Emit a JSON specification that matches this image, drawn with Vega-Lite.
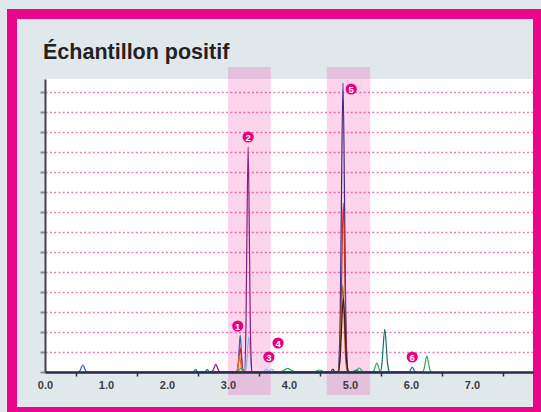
{
  "$schema": "https://vega.github.io/schema/vega-lite/v6.json",
  "width": 488,
  "height": 293,
  "autosize": {"type": "none"},
  "padding": {"left": 45, "top": 79, "right": 8, "bottom": 40},
  "background": "#e1e8ec",
  "config": {"view": {"fill": "white", "stroke": null}},
  "title": {"text": "Échantillon positif", "anchor": "start", "frame": "group", "font": "Liberation Sans", "fontSize": 21.5, "fontWeight": "bold", "color": "#222222", "baseline": "alphabetic", "offset": -71, "dx": -2},
  "datasets": {
    "bands": [{"x1": 3.0, "x2": 3.7}, {"x1": 4.62, "x2": 5.33}],
    "markers": [
      {"n": "1", "t": 3.16, "v": 2.3},
      {"n": "2", "t": 3.33, "v": 11.75},
      {"n": "3", "t": 3.67, "v": 0.75},
      {"n": "4", "t": 3.82, "v": 1.45},
      {"n": "5", "t": 5.02, "v": 14.15},
      {"n": "6", "t": 6.02, "v": 0.75}
    ],
    "traces": [
      {"s": "navy", "t": 4.81, "v": 0}, {"s": "navy", "t": 4.84, "v": 2.89}, {"s": "navy", "t": 4.855, "v": 7.23}, {"s": "navy", "t": 4.885, "v": 14.45}, {"s": "navy", "t": 4.915, "v": 7.23}, {"s": "navy", "t": 4.93, "v": 2.89}, {"s": "navy", "t": 4.96, "v": 0},

      {"s": "blue", "t": 0.545, "v": 0}, {"s": "blue", "t": 0.575, "v": 0.07}, {"s": "blue", "t": 0.59, "v": 0.18}, {"s": "blue", "t": 0.62, "v": 0.35}, {"s": "blue", "t": 0.65, "v": 0.18}, {"s": "blue", "t": 0.665, "v": 0.07}, {"s": "blue", "t": 0.695, "v": 0},
      {"s": "blue", "t": 3.146, "v": 0}, {"s": "blue", "t": 3.168, "v": 0.37}, {"s": "blue", "t": 3.179, "v": 0.93}, {"s": "blue", "t": 3.2, "v": 1.85}, {"s": "blue", "t": 3.221, "v": 0.93}, {"s": "blue", "t": 3.232, "v": 0.37}, {"s": "blue", "t": 3.254, "v": 0},
      {"s": "blue", "t": 5.96, "v": 0}, {"s": "blue", "t": 5.984, "v": 0.05}, {"s": "blue", "t": 5.996, "v": 0.13}, {"s": "blue", "t": 6.02, "v": 0.25}, {"s": "blue", "t": 6.044, "v": 0.13}, {"s": "blue", "t": 6.056, "v": 0.05}, {"s": "blue", "t": 6.08, "v": 0},

      {"s": "red", "t": 3.14, "v": 0}, {"s": "red", "t": 3.164, "v": 0.24}, {"s": "red", "t": 3.176, "v": 0.6}, {"s": "red", "t": 3.2, "v": 1.2}, {"s": "red", "t": 3.224, "v": 0.6}, {"s": "red", "t": 3.236, "v": 0.24}, {"s": "red", "t": 3.26, "v": 0},
      {"s": "red", "t": 4.815, "v": 0}, {"s": "red", "t": 4.845, "v": 1.69}, {"s": "red", "t": 4.86, "v": 4.23}, {"s": "red", "t": 4.89, "v": 8.45}, {"s": "red", "t": 4.92, "v": 4.23}, {"s": "red", "t": 4.935, "v": 1.69}, {"s": "red", "t": 4.965, "v": 0},

      {"s": "orange", "t": 3.13, "v": 0}, {"s": "orange", "t": 3.158, "v": 0.16}, {"s": "orange", "t": 3.17, "v": 0.4}, {"s": "orange", "t": 3.19, "v": 0.8}, {"s": "orange", "t": 3.21, "v": 0.4}, {"s": "orange", "t": 3.222, "v": 0.16}, {"s": "orange", "t": 3.25, "v": 0},

      {"s": "lightblue", "t": 3.28, "v": 0}, {"s": "lightblue", "t": 3.304, "v": 0.35}, {"s": "lightblue", "t": 3.316, "v": 0.88}, {"s": "lightblue", "t": 3.34, "v": 1.75}, {"s": "lightblue", "t": 3.364, "v": 0.88}, {"s": "lightblue", "t": 3.376, "v": 0.35}, {"s": "lightblue", "t": 3.4, "v": 0},
      {"s": "lightblue", "t": 3.58, "v": 0}, {"s": "lightblue", "t": 3.62, "v": 0.15}, {"s": "lightblue", "t": 3.67, "v": 0.03}, {"s": "lightblue", "t": 3.72, "v": 0.15}, {"s": "lightblue", "t": 3.76, "v": 0},

      {"s": "olive", "t": 4.805, "v": 0}, {"s": "olive", "t": 4.835, "v": 0.87}, {"s": "olive", "t": 4.85, "v": 2.18}, {"s": "olive", "t": 4.88, "v": 4.35}, {"s": "olive", "t": 4.91, "v": 2.18}, {"s": "olive", "t": 4.925, "v": 0.87}, {"s": "olive", "t": 4.955, "v": 0},

      {"s": "brown", "t": 4.69, "v": 0}, {"s": "brown", "t": 4.72, "v": 0.15}, {"s": "brown", "t": 4.75, "v": 0},
      {"s": "brown", "t": 4.806, "v": 0}, {"s": "brown", "t": 4.84, "v": 0.74}, {"s": "brown", "t": 4.857, "v": 1.85}, {"s": "brown", "t": 4.89, "v": 3.7}, {"s": "brown", "t": 4.923, "v": 1.85}, {"s": "brown", "t": 4.94, "v": 0.74}, {"s": "brown", "t": 4.974, "v": 0},

      {"s": "purple", "t": 2.725, "v": 0}, {"s": "purple", "t": 2.755, "v": 0.08}, {"s": "purple", "t": 2.77, "v": 0.19}, {"s": "purple", "t": 2.8, "v": 0.38}, {"s": "purple", "t": 2.83, "v": 0.19}, {"s": "purple", "t": 2.845, "v": 0.08}, {"s": "purple", "t": 2.875, "v": 0},
      {"s": "purple", "t": 3.27, "v": 0}, {"s": "purple", "t": 3.294, "v": 2.25}, {"s": "purple", "t": 3.306, "v": 5.63}, {"s": "purple", "t": 3.33, "v": 11.25}, {"s": "purple", "t": 3.354, "v": 5.63}, {"s": "purple", "t": 3.366, "v": 2.25}, {"s": "purple", "t": 3.39, "v": 0},

      {"s": "teal", "t": 2.43, "v": 0}, {"s": "teal", "t": 2.47, "v": 0.12}, {"s": "teal", "t": 2.51, "v": 0},
      {"s": "teal", "t": 2.62, "v": 0}, {"s": "teal", "t": 2.66, "v": 0.12}, {"s": "teal", "t": 2.7, "v": 0},
      {"s": "teal", "t": 5.04, "v": 0}, {"s": "teal", "t": 5.1, "v": 0.1}, {"s": "teal", "t": 5.16, "v": 0},
      {"s": "teal", "t": 5.495, "v": 0}, {"s": "teal", "t": 5.525, "v": 0.43}, {"s": "teal", "t": 5.54, "v": 1.08}, {"s": "teal", "t": 5.57, "v": 2.15}, {"s": "teal", "t": 5.6, "v": 1.08}, {"s": "teal", "t": 5.615, "v": 0.43}, {"s": "teal", "t": 5.645, "v": 0},

      {"s": "green", "t": 3.16, "v": 0}, {"s": "green", "t": 3.22, "v": 0.2}, {"s": "green", "t": 3.28, "v": 0},
      {"s": "green", "t": 3.85, "v": 0}, {"s": "green", "t": 3.92, "v": 0.08}, {"s": "green", "t": 3.98, "v": 0.18}, {"s": "green", "t": 4.04, "v": 0.08}, {"s": "green", "t": 4.11, "v": 0},
      {"s": "green", "t": 4.4, "v": 0}, {"s": "green", "t": 4.5, "v": 0.1}, {"s": "green", "t": 4.6, "v": 0},
      {"s": "green", "t": 5.08, "v": 0}, {"s": "green", "t": 5.15, "v": 0.2}, {"s": "green", "t": 5.22, "v": 0},
      {"s": "green", "t": 5.365, "v": 0}, {"s": "green", "t": 5.395, "v": 0.09}, {"s": "green", "t": 5.41, "v": 0.23}, {"s": "green", "t": 5.44, "v": 0.45}, {"s": "green", "t": 5.47, "v": 0.23}, {"s": "green", "t": 5.485, "v": 0.09}, {"s": "green", "t": 5.515, "v": 0},
      {"s": "green", "t": 6.185, "v": 0}, {"s": "green", "t": 6.215, "v": 0.16}, {"s": "green", "t": 6.23, "v": 0.4}, {"s": "green", "t": 6.26, "v": 0.8}, {"s": "green", "t": 6.29, "v": 0.4}, {"s": "green", "t": 6.305, "v": 0.16}, {"s": "green", "t": 6.335, "v": 0}
    ]
  },
  "layer": [
    {
      "data": {"values": [{}]},
      "mark": {"type": "rect", "fill": "transparent", "stroke": "#ea068b", "strokeWidth": 10},
      "encoding": {
        "x": {"datum": -0.541, "type": "quantitative", "scale": {"domain": [0, 8], "nice": false, "zero": false}},
        "x2": {"datum": 8.082},
        "y": {"datum": 17.9, "type": "quantitative", "scale": {"domain": [0, 14.65], "nice": false, "zero": false}},
        "y2": {"datum": -2.0}
      }
    },
    {
      "data": {"name": "bands"},
      "mark": {"type": "rect", "fill": "#ec008c", "opacity": 0.17},
      "encoding": {
        "x": {"field": "x1", "type": "quantitative", "scale": {"domain": [0, 8], "nice": false, "zero": false}},
        "x2": {"field": "x2"},
        "y": {"datum": 15.25, "type": "quantitative", "scale": {"domain": [0, 14.65], "nice": false, "zero": false}},
        "y2": {"datum": -1.15}
      }
    },
    {
      "data": {"name": "traces"},
      "mark": {"type": "line", "strokeWidth": 1.2, "interpolate": "monotone"},
      "encoding": {
        "x": {"field": "t", "type": "quantitative", "scale": {"domain": [0, 8], "nice": false, "zero": false},
          "axis": {"title": null, "values": [0, 1, 2, 3, 4, 5, 6, 7], "tickCount": 20, "format": ".1f", "tickOffset": 30.5, "labelOffset": -30.5, "labelFont": "Liberation Sans", "labelFontWeight": "bold", "labelFontSize": 11, "labelColor": "#3c3c3c", "labelPadding": 3, "labelFlush": false, "labelOverlap": false, "tickColor": "#333333", "tickSize": 4, "tickWidth": 1.5, "domainColor": "#2a2b4d", "domainWidth": 2.5, "grid": false, "zindex": 1}},
        "y": {"field": "v", "type": "quantitative", "scale": {"domain": [0, 14.65], "nice": false, "zero": false},
          "axis": {"title": null, "values": [0, 1, 2, 3, 4, 5, 6, 7, 8, 9, 10, 11, 12, 13, 14], "tickCount": 30, "labels": false, "grid": true, "gridColor": "#f07ab8", "gridDash": [2, 2.3], "gridWidth": 1.5, "domainColor": "#444444", "domainWidth": 2, "tickColor": "#8a8a8a", "tickWidth": 2, "tickSize": 5, "zindex": 0}},
        "color": {"field": "s", "type": "nominal", "legend": null,
          "scale": {"domain": ["navy", "blue", "red", "orange", "lightblue", "olive", "brown", "purple", "teal", "green"],
                    "range": ["#3a2d84", "#3d5bb5", "#c62a2a", "#e8702a", "#8ab4e6", "#8c6c22", "#3f1a1c", "#8b1d7d", "#17716b", "#2ea45c"]}}
      }
    },
    {
      "data": {"name": "markers"},
      "mark": {"type": "circle", "size": 125, "opacity": 1, "color": "#e6007e"},
      "encoding": {
        "x": {"field": "t", "type": "quantitative", "scale": {"domain": [0, 8], "nice": false, "zero": false}},
        "y": {"field": "v", "type": "quantitative", "scale": {"domain": [0, 14.65], "nice": false, "zero": false}}
      }
    },
    {
      "data": {"name": "markers"},
      "mark": {"type": "text", "color": "white", "font": "Liberation Sans", "fontWeight": "bold", "fontSize": 9.5, "baseline": "middle", "align": "center", "dy": 0.5},
      "encoding": {
        "x": {"field": "t", "type": "quantitative", "scale": {"domain": [0, 8], "nice": false, "zero": false}},
        "y": {"field": "v", "type": "quantitative", "scale": {"domain": [0, 14.65], "nice": false, "zero": false}},
        "text": {"field": "n"}
      }
    }
  ]
}
